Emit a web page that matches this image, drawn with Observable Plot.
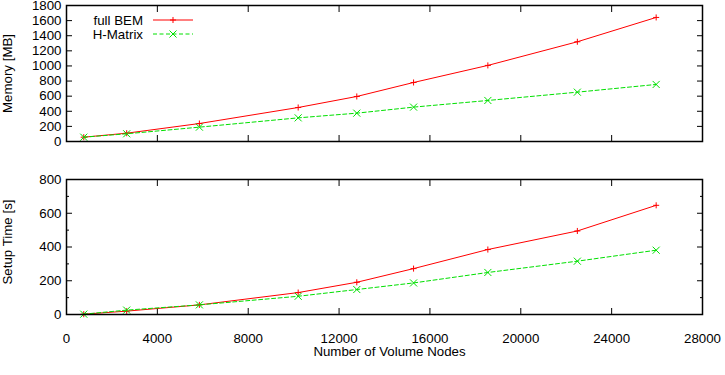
<!DOCTYPE html>
<html><head><meta charset="utf-8">
<script src="https://cdn.jsdelivr.net/npm/d3@7"></script>
<script src="https://cdn.jsdelivr.net/npm/@observablehq/plot@0.6"></script>
<style>
body{margin:0;background:#fff;}
#wrap{position:relative;width:725px;height:375px;font-family:"Liberation Sans",Arial,sans-serif;background:#fff;}
#wrap svg{display:block;overflow:visible;}
#legend{position:absolute;left:0;top:0;}
</style></head><body><div id="wrap"></div>
<script>
// ---- data ----
const nodes = [760, 2650, 5850, 10200, 12780, 15280, 18550, 22490, 25960];
const memFull = [57, 110, 238, 450, 596, 781, 1007, 1320, 1642];
const memH = [57, 102, 190, 313, 375, 455, 543, 653, 755];
const timeFull = [2, 20, 57, 130, 191, 272, 385, 495, 647];
const timeH = [2, 26, 57, 108, 148, 187, 249, 316, 381];
const seriesNames = ["full BEM", "H-Matrix"];
const xTicks = [0, 4000, 8000, 12000, 16000, 20000, 24000, 28000];
const memTicks = [0, 200, 400, 600, 800, 1000, 1200, 1400, 1600, 1800];
const timeTicks = [0, 200, 400, 600, 800];
const timeMinor = [100, 300, 500, 700];
const xLabel = "Number of Volume Nodes";
const memLabel = "Memory [MB]";
const timeLabel = "Setup Time [s]";

// ---- styles ----
const colors = ["#ff0000", "#00e000"];
const dashes = [null, "4,2.5"];
const symbols = ["plus", "times"];
const symR = [2.1, 3.3];
const font = '"Liberation Sans", Arial, sans-serif';
const fs = "13.3px";
const fmt = d3.format("d");

function rows(vals) { return nodes.map((x, i) => ({x, y: vals[i]})); }

function seriesMarks(full, h) {
  const data = [rows(full), rows(h)];
  const m = [];
  data.forEach((d, i) => {
    m.push(Plot.line(d, {x: "x", y: "y", stroke: colors[i], strokeWidth: 1, strokeDasharray: dashes[i]}));
    m.push(Plot.dot(d, {x: "x", y: "y", stroke: colors[i], strokeWidth: 1, symbol: symbols[i], r: symR[i]}));
  });
  return m;
}

const common = {
  width: 725, marginLeft: 66, marginRight: 23,
  x: {domain: [0, 28000]},
  style: {fontFamily: font, fontSize: fs, color: "black", background: "white", overflow: "visible"}
};

const topPlot = Plot.plot({
  ...common,
  height: 160, marginTop: 5, marginBottom: 19,
  y: {domain: [0, 1800]},
  marks: [
    Plot.axisY({ticks: memTicks, tickSize: -6, tickPadding: 11, tickFormat: fmt, label: null}),
    Plot.axisY({anchor: "right", ticks: memTicks, tickSize: -6, tickFormat: () => "", label: null}),
    Plot.axisX({ticks: xTicks, tickSize: -6, tickFormat: () => "", label: null}),
    Plot.axisX({anchor: "top", ticks: xTicks, tickSize: -6, tickFormat: () => "", label: null}),
    ...seriesMarks(memFull, memH),
    Plot.frame({stroke: "black", strokeWidth: 1.5}),
    Plot.text([memLabel], {text: d => d, frameAnchor: "left", textAnchor: "middle", lineAnchor: "middle", rotate: -90, dx: -59})
  ]
});

const bottomPlot = Plot.plot({
  ...common,
  height: 215, marginTop: 19, marginBottom: 61,
  y: {domain: [0, 800]},
  marks: [
    Plot.axisY({ticks: timeTicks, tickSize: -6, tickPadding: 11, tickFormat: fmt, label: null}),
    Plot.axisY({ticks: timeMinor, tickSize: -3, tickFormat: () => "", label: null}),
    Plot.axisY({anchor: "right", ticks: timeTicks, tickSize: -6, tickFormat: () => "", label: null}),
    Plot.axisY({anchor: "right", ticks: timeMinor, tickSize: -3, tickFormat: () => "", label: null}),
    Plot.axisX({ticks: xTicks, tickSize: -6, tickPadding: 25, tickFormat: fmt, label: null}),
    Plot.axisX({anchor: "top", ticks: xTicks, tickSize: -6, tickFormat: () => "", label: null}),
    ...seriesMarks(timeFull, timeH),
    Plot.frame({stroke: "black", strokeWidth: 1.5}),
    Plot.text([timeLabel], {text: d => d, frameAnchor: "left", textAnchor: "middle", lineAnchor: "middle", rotate: -90, dx: -59, dy: -5}),
    Plot.text([xLabel], {text: d => d, frameAnchor: "bottom", textAnchor: "middle", lineAnchor: "middle", dy: 37.5, dx: 5})
  ]
});

const wrap = document.getElementById("wrap");
wrap.appendChild(topPlot);
wrap.appendChild(bottomPlot);

// ---- legend (inside the top panel, top-left) ----
const lg = d3.select(wrap).append("svg").attr("id", "legend")
  .attr("width", 220).attr("height", 50)
  .style("font-family", font).style("font-size", fs);
seriesNames.forEach((name, i) => {
  const cy = 20 + 14 * i;
  lg.append("text").attr("x", 143).attr("y", cy).attr("dy", "0.35em")
    .attr("text-anchor", "end").attr("fill", "black").text(name);
  lg.append("line").attr("x1", 153).attr("x2", 193).attr("y1", cy).attr("y2", cy)
    .attr("stroke", colors[i]).attr("stroke-width", 1)
    .attr("stroke-dasharray", dashes[i]);
  const sym = d3.symbol().type(i === 0 ? d3.symbolPlus : d3.symbolTimes).size(Math.PI * symR[i] * symR[i]);
  lg.append("path").attr("d", sym()).attr("transform", `translate(173,${cy})`)
    .attr("fill", "none").attr("stroke", colors[i]).attr("stroke-width", 1);
});
</script>
</body></html>
